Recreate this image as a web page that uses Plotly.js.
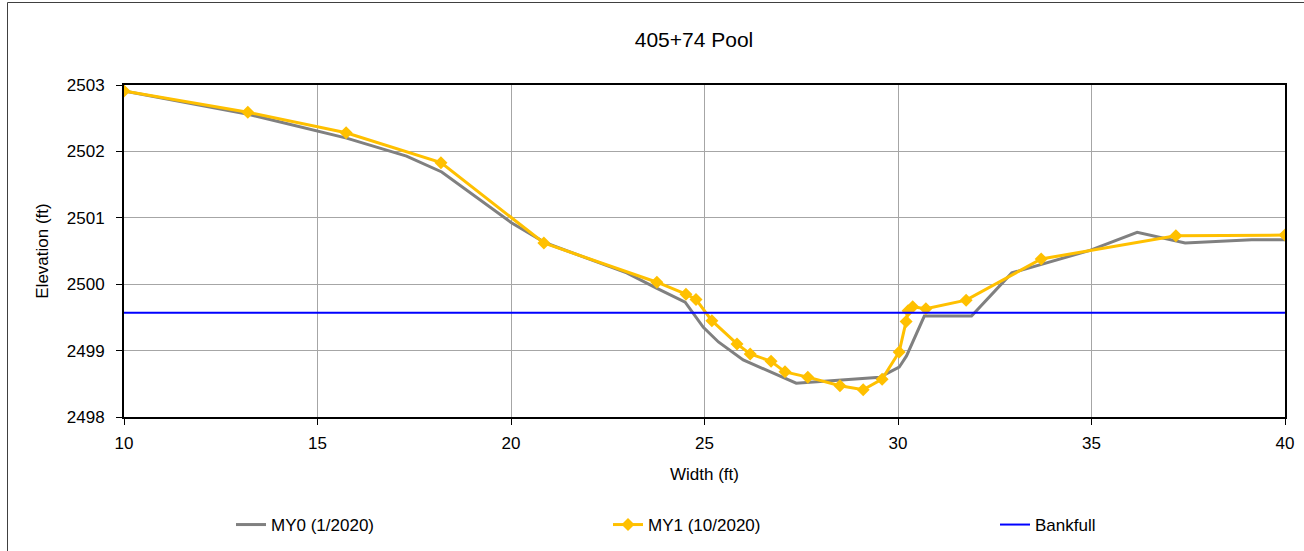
<!DOCTYPE html>
<html>
<head>
<meta charset="utf-8">
<script src="https://cdn.plot.ly/plotly-3.0.1.min.js"></script>
<style>
html,body{margin:0;padding:0;background:#fff;}
#chart{width:1304px;height:551px;}
</style>
</head>
<body>
<div id="chart"></div>
<script>
const my0X = [10, 13.21, 15.75, 17.3, 18.21, 20.0, 20.9, 22.99, 23.76, 24.5, 24.97, 25.36, 26.0, 27.37, 29.53, 30.03, 30.22, 30.68, 31.9, 32.94, 34.96, 36.18, 37.42, 39.14, 40];
const my0Y = [2502.91, 2502.56, 2502.2, 2501.93, 2501.69, 2500.93, 2500.62, 2500.17, 2499.94, 2499.73, 2499.35, 2499.13, 2498.86, 2498.51, 2498.6, 2498.75, 2498.92, 2499.52, 2499.52, 2500.17, 2500.51, 2500.78, 2500.62, 2500.67, 2500.67];
const my1X = [10, 13.2, 15.74, 18.19, 20.85, 23.77, 24.52, 24.78, 25.19, 25.84, 26.18, 26.72, 27.08, 27.67, 28.5, 29.1, 29.59, 30.03, 30.21, 30.26, 30.38, 30.72, 31.76, 33.7, 37.18, 40];
const my1Y = [2502.91, 2502.59, 2502.28, 2501.83, 2500.62, 2500.03, 2499.85, 2499.77, 2499.45, 2499.1, 2498.95, 2498.84, 2498.68, 2498.6, 2498.47, 2498.41, 2498.57, 2498.98, 2499.44, 2499.6, 2499.66, 2499.63, 2499.76, 2500.38, 2500.73, 2500.74];
const bankfullX = [10, 40];
const bankfullY = [2499.57, 2499.57];
const names = ["MY0 (1/2020)", "MY1 (10/2020)", "Bankfull"];
const titleText = "405+74 Pool";
const xTitle = "Width (ft)";
const yTitle = "Elevation (ft)";

const font = "Liberation Sans, Arial, sans-serif";
const traces = [
  {x: my0X, y: my0Y, name: names[0], mode: "lines", line: {color: "#808080", width: 3}, legend: "legend"},
  {x: my1X, y: my1Y, name: names[1], mode: "lines+markers", line: {color: "#FFC000", width: 3},
   marker: {symbol: "diamond", size: 10, color: "#FFC000"}, legend: "legend2"},
  {x: bankfullX, y: bankfullY, name: names[2], mode: "lines", line: {color: "#0000FF", width: 2}, legend: "legend3"}
];
const W = 1161, H = 332;
const legBase = {orientation: "h", yanchor: "middle", xanchor: "left", y: (417 - 525) / H,
  font: {family: font, size: 17, color: "#000"}, bgcolor: "rgba(0,0,0,0)", itemwidth: 30, tracegroupgap: 0};
const layout = {
  width: 1304, height: 551,
  margin: {l: 124, r: 19, t: 85, b: 134, autoexpand: false},
  paper_bgcolor: "#fff", plot_bgcolor: "#fff",
  font: {family: font, size: 17, color: "#000"},
  title: {text: titleText, x: (694 - 124) / W, xref: "paper", xanchor: "center", y: 1 - 40 / 551, yanchor: "middle",
    font: {family: font, size: 21, color: "#000"}},
  xaxis: {range: [10, 40], dtick: 5, tick0: 10, showgrid: true, gridcolor: "#a6a6a6", gridwidth: 1,
    zeroline: false, showline: true, linecolor: "#000", linewidth: 2, mirror: true, automargin: false,
    ticks: "outside", ticklen: 6, tickcolor: "#000", tickfont: {family: font, size: 17},
    ticklabelstandoff: 4,
    title: {text: xTitle, font: {family: font, size: 17}, standoff: 16}},
  yaxis: {range: [2498, 2503], dtick: 1, tick0: 2498, showgrid: true, gridcolor: "#a6a6a6", gridwidth: 1,
    zeroline: false, showline: true, linecolor: "#000", linewidth: 2, mirror: true, automargin: false,
    ticks: "outside", ticklen: 6, tickcolor: "#000", tickfont: {family: font, size: 17},
    ticklabelstandoff: 8, tickformat: "d",
    title: {text: yTitle, font: {family: font, size: 17}, standoff: 14}},
  legend: Object.assign({}, legBase, {x: (231 - 124) / W}),
  legend2: Object.assign({}, legBase, {x: (608 - 124) / W}),
  legend3: Object.assign({}, legBase, {x: (995 - 124) / W}),
  showlegend: true,
  shapes: [{type: "rect", xref: "paper", yref: "paper", x0: (7.5 - 124) / W, x1: (1320 - 124) / W,
    y0: (417 - 570) / H, y1: (417 - 2.5) / H, line: {color: "#404040", width: 1}, fillcolor: "rgba(0,0,0,0)", layer: "below"}]
};
Plotly.newPlot("chart", traces, layout, {displayModeBar: false, staticPlot: true});
</script>
</body>
</html>
